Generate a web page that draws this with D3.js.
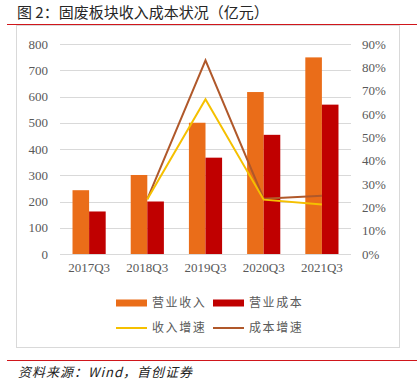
<!DOCTYPE html>
<html>
<head>
<meta charset="utf-8">
<script src="https://cdn.jsdelivr.net/npm/d3@7"></script>
<style>
  body { margin: 0; background: #fff; }
  svg { display: block; }
</style>
</head>
<body>
<div id="chart"></div>
<script>
// Chart data
const categories = ['2017Q3', '2018Q3', '2019Q3', '2020Q3', '2021Q3'];
const revenue = [243, 301, 500, 617, 749];
const cost = [162, 200, 367, 454, 569];
const revenueGrowth = [null, 0.235, 0.663, 0.233, 0.212];
const costGrowth = [null, 0.235, 0.830, 0.237, 0.250];
const leftTicks = [0, 100, 200, 300, 400, 500, 600, 700, 800];
const rightTicks = [0, 0.1, 0.2, 0.3, 0.4, 0.5, 0.6, 0.7, 0.8, 0.9];

const width = 417;
const height = 380;
const ORANGE = '#EA6D19';
const RED = '#C00000';
const YELLOW = '#F5C000';
const BROWN = '#B0582A';
const TEXT = '#595959';
const SERIF = '"Times New Roman", "Liberation Serif", serif';
const CJK = '"Noto Sans CJK SC", sans-serif';

const svg = d3.select('#chart').append('svg')
  .attr('width', width)
  .attr('height', height);

// title and frame lines
svg.append('text')
  .attr('x', 17).attr('y', 18)
  .attr('font-family', CJK).attr('font-size', 15)
  .attr('fill', '#262626')
  .attr('xml:space', 'preserve')
  .text('图 2：固废板块收入成本状况（亿元）');

svg.append('line')
  .attr('x1', 7).attr('x2', 417).attr('y1', 24.5).attr('y2', 24.5)
  .attr('stroke', '#D0161B').attr('stroke-width', 1);

svg.append('rect')
  .attr('x', 16.5).attr('y', 25.5).attr('width', 383).attr('height', 322)
  .attr('fill', 'none').attr('stroke', '#D9D9D9');

svg.append('line')
  .attr('x1', 7).attr('x2', 417).attr('y1', 360.5).attr('y2', 360.5)
  .attr('stroke', '#D0161B').attr('stroke-width', 1);

svg.append('text')
  .attr('x', 18).attr('y', 377)
  .attr('font-family', '"Noto Sans CJK SC", serif').attr('font-size', 13)
  .attr('letter-spacing', 1)
  .attr('font-style', 'italic')
  .attr('fill', '#222')
  .text('资料来源：Wind，首创证券');

// scales
const plotLeft = 60, plotRight = 351, plotTop = 44, plotBottom = 254;
const x = d3.scaleBand().domain(categories).range([plotLeft, plotRight]).paddingInner(0.43).paddingOuter(0.215);
const yLeft = d3.scaleLinear().domain([0, 800]).range([plotBottom, plotTop]);
const yRight = d3.scaleLinear().domain([0, 0.9]).range([plotBottom, plotTop]);

// gridlines
svg.append('g')
  .selectAll('line')
  .data(leftTicks)
  .join('line')
  .attr('x1', plotLeft).attr('x2', plotRight)
  .attr('y1', d => Math.round(yLeft(d)) + 0.5)
  .attr('y2', d => Math.round(yLeft(d)) + 0.5)
  .attr('stroke', '#D9D9D9').attr('stroke-width', 1);

// left axis
const leftAxis = svg.append('g')
  .attr('transform', `translate(${plotLeft - 12},0)`)
  .call(d3.axisLeft(yLeft).tickValues(leftTicks).tickSize(0).tickPadding(0));
leftAxis.select('.domain').remove();
leftAxis.selectAll('text')
  .attr('font-family', SERIF).attr('font-size', 13).attr('fill', TEXT);

// right axis
const rightAxis = svg.append('g')
  .attr('transform', `translate(${plotRight + 11},0)`)
  .call(d3.axisRight(yRight).tickValues(rightTicks).tickFormat(d3.format('.0%')).tickSize(0).tickPadding(0));
rightAxis.select('.domain').remove();
rightAxis.selectAll('text')
  .attr('font-family', SERIF).attr('font-size', 13).attr('fill', TEXT);

// bottom axis
const bottomAxis = svg.append('g')
  .attr('transform', `translate(0,${plotBottom + 8})`)
  .call(d3.axisBottom(x).tickSize(0).tickPadding(0));
bottomAxis.select('.domain').remove();
bottomAxis.selectAll('text')
  .attr('dy', '0.8em')
  .attr('font-family', SERIF).attr('font-size', 13).attr('fill', TEXT);

// bars
const bw = x.bandwidth() / 2;
svg.append('g')
  .selectAll('rect')
  .data(categories)
  .join('rect')
  .attr('x', d => x(d))
  .attr('y', (d, i) => yLeft(revenue[i]))
  .attr('width', bw)
  .attr('height', (d, i) => yLeft(0) - yLeft(revenue[i]))
  .attr('fill', ORANGE);

svg.append('g')
  .selectAll('rect')
  .data(categories)
  .join('rect')
  .attr('x', d => x(d) + bw)
  .attr('y', (d, i) => yLeft(cost[i]))
  .attr('width', bw)
  .attr('height', (d, i) => yLeft(0) - yLeft(cost[i]))
  .attr('fill', RED);

// growth lines
const line = d3.line()
  .defined(d => d.v != null)
  .x(d => x(d.c) + x.bandwidth() / 2)
  .y(d => yRight(d.v));

svg.append('path')
  .datum(categories.map((c, i) => ({ c, v: costGrowth[i] })))
  .attr('d', line)
  .attr('fill', 'none').attr('stroke', BROWN).attr('stroke-width', 2);

svg.append('path')
  .datum(categories.map((c, i) => ({ c, v: revenueGrowth[i] })))
  .attr('d', line)
  .attr('fill', 'none').attr('stroke', YELLOW).attr('stroke-width', 2);

// legend
const legendItems = [
  { name: '营业收入', color: ORANGE, type: 'bar', lx: 116, ly: 303 },
  { name: '营业成本', color: RED, type: 'bar', lx: 213, ly: 303 },
  { name: '收入增速', color: YELLOW, type: 'line', lx: 116, ly: 328 },
  { name: '成本增速', color: BROWN, type: 'line', lx: 213, ly: 328 }
];
const legend = svg.append('g')
  .selectAll('g')
  .data(legendItems)
  .join('g')
  .attr('transform', d => `translate(${d.lx},${d.ly})`);

legend.append('rect')
  .attr('x', 0)
  .attr('y', d => d.type === 'bar' ? -3.5 : -1)
  .attr('width', 31)
  .attr('height', d => d.type === 'bar' ? 7 : 2)
  .attr('fill', d => d.color);

legend.append('text')
  .attr('x', 36).attr('y', 0).attr('dy', '0.35em')
  .attr('font-family', CJK).attr('font-size', 12)
  .attr('letter-spacing', 1.6)
  .attr('fill', TEXT)
  .text(d => d.name);
</script>
</body>
</html>
